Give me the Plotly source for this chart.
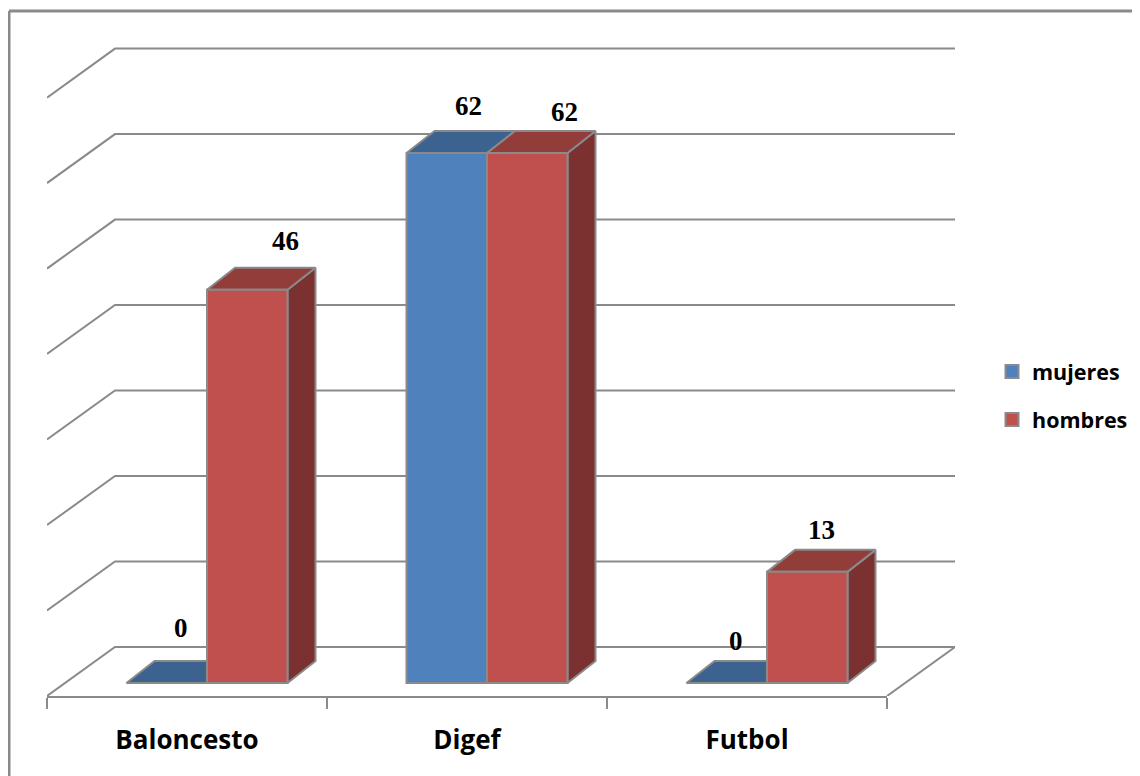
import plotly.graph_objects as go

categories = ["Baloncesto", "Digef", "Futbol"]
mujeres = [0, 62, 0]
hombres = [46, 62, 13]
y_ticks = [0, 10, 20, 30, 40, 50, 60, 70]

PAGE = 8                            # default page margin round the figure
W, H = 1140 - PAGE, 776 - PAGE
L, R, T, B = 47 - PAGE, 955 - PAGE, 47 - PAGE, 696 - PAGE   # plot box
PX_X = 280.0                        # pixels per category
PX_Y = 530 / 62                     # pixels per value unit
GRAY = "#8a8a8a"
BLUE, BLUE_TOP = "#4f81bd", "#3c6390"
RED, RED_TOP, RED_SIDE = "#c0504d", "#933d3b", "#7b312f"

# depth of floor and bars expressed in axis units
floor_dx, floor_dy = 68 / PX_X, 49 / PX_Y
bar_dx, bar_dy = 28 / PX_X, 22 / PX_Y
bar_w = 80.5 / PX_X
bar_shift = 20 / PX_X
y0 = -13 / PX_Y
x_min, x_max = -0.5, 2.5 + floor_dx
y_min, y_max = y0, y0 + (B - T) / PX_Y

fig = go.Figure()


def line(xs, ys):
    fig.add_trace(go.Scatter(x=xs, y=ys, mode="lines", showlegend=False, hoverinfo="skip",
                             line=dict(color=GRAY, width=2), cliponaxis=False))


def poly(xs, ys, fill):
    fig.add_trace(go.Scatter(x=xs, y=ys, xaxis="x3", yaxis="y2", mode="lines", fill="toself",
                             fillcolor=fill, showlegend=False, hoverinfo="skip",
                             line=dict(color=GRAY, width=2), cliponaxis=False))


# walls and floor (bottom layer)
for v in y_ticks[1:]:
    fy = y0 + v
    line([x_min, x_min + floor_dx, x_max], [fy, fy + floor_dy, fy + floor_dy])
line([x_min, x_min + floor_dx, x_max, x_max - floor_dx],
     [y0, y0 + floor_dy, y0 + floor_dy, y0])


# side and top faces of the bars (middle layer)
def faces(vals, offset, top, side):
    for i, v in enumerate(vals):
        a = i + offset
        b = a + bar_w
        if v > 0:
            poly([b, b + bar_dx, b + bar_dx, b, b], [0, bar_dy, v + bar_dy, v, 0], side)
        poly([a, b, b + bar_dx, a + bar_dx, a], [v, v, v + bar_dy, v + bar_dy, v], top)


off_m, off_h = bar_shift - bar_w, bar_shift
faces(mujeres, off_m, BLUE_TOP, BLUE_TOP)
faces(hombres, off_h, RED_TOP, RED_SIDE)

# front faces: real bars (top layer)
for name, vals, off, col in [("mujeres", mujeres, off_m, BLUE), ("hombres", hombres, off_h, RED)]:
    fig.add_trace(go.Bar(x=list(range(3)), y=vals, width=bar_w, offset=off, name=name,
                         xaxis="x4", yaxis="y3", showlegend=False,
                         marker=dict(color=col, line=dict(color=GRAY, width=2))))
    fig.add_trace(go.Scatter(x=[None], y=[None], mode="markers", name=f"<b>{name}</b>",
                             legendgroup=name, hoverinfo="skip",
                             marker=dict(symbol="square", size=13, color=col,
                                         line=dict(color=GRAY, width=2))))

# category axis (ticks on boundaries) carried by an invisible trace on xaxis2
fig.add_trace(go.Scatter(x=categories, y=[0, 0, 0], xaxis="x2", mode="markers",
                         marker=dict(opacity=0), showlegend=False, hoverinfo="skip"))

# data labels
nudges_m = [(14, 55), (22, 47), (9, 42)]
nudges_h = [(38, 49), (37, 41), (14, 42)]
for vals, off, nudges in [(mujeres, off_m, nudges_m), (hombres, off_h, nudges_h)]:
    for i, v in enumerate(vals):
        fig.add_annotation(x=i + off + bar_w / 2, y=v, text=f"<b>{v}</b>", showarrow=False,
                           xshift=nudges[i][0], yshift=nudges[i][1],
                           font=dict(family="Liberation Serif", size=27, color="#000"))

chart_font = "Open Sans"
hidden_x = dict(range=[x_min, x_max], visible=False, domain=[0, 1])
hidden_y = dict(range=[y_min, y_max], visible=False, fixedrange=True)
border_x = (1 - L) / (R - L)
border_y = (B - 3) / (B - T)
fig.update_layout(
    width=W, height=H, autosize=False,
    margin=dict(l=L, r=W - R, t=T, b=H - B, pad=0),
    paper_bgcolor="white", plot_bgcolor="rgba(0,0,0,0)",
    barmode="overlay", showlegend=True,
    xaxis=hidden_x,
    xaxis2=dict(type="category", categoryorder="array", categoryarray=categories,
                range=[-0.5, 2.5], domain=[0, 840 / (R - L)], anchor="y",
                side="bottom", tickson="boundaries", ticks="outside", ticklen=11, tickwidth=2,
                tickcolor=GRAY, showline=True, linecolor=GRAY, linewidth=2, showgrid=False,
                zeroline=False, tickfont=dict(family=chart_font, size=26, color="#000"),
                ticklabelstandoff=20,
                tickvals=categories, ticktext=[f"<b>{c}</b>" for c in categories]),
    xaxis3=dict(**hidden_x, overlaying="x", anchor="y2"),
    xaxis4=dict(**hidden_x, overlaying="x", anchor="y3"),
    yaxis=hidden_y,
    yaxis2=dict(**hidden_y, overlaying="y", anchor="x3"),
    yaxis3=dict(**hidden_y, overlaying="y", anchor="x4"),
    legend=dict(x=984 / W, xref="container", y=1 - 343 / H, yref="container", xanchor="left",
                yanchor="top", tracegroupgap=17, bgcolor="rgba(0,0,0,0)",
                itemwidth=30, font=dict(family=chart_font, size=21.5, color="#000")),
    shapes=[
        dict(type="line", xref="paper", yref="paper", layer="below", x0=border_x, x1=border_x,
             y0=(B - H) / (B - T), y1=border_y, line=dict(color=GRAY, width=3)),
        dict(type="line", xref="paper", yref="paper", layer="below", x0=border_x, x1=(W - L) / (R - L),
             y0=border_y, y1=border_y, line=dict(color=GRAY, width=3)),
    ],
)
fig.write_html("out.html")
